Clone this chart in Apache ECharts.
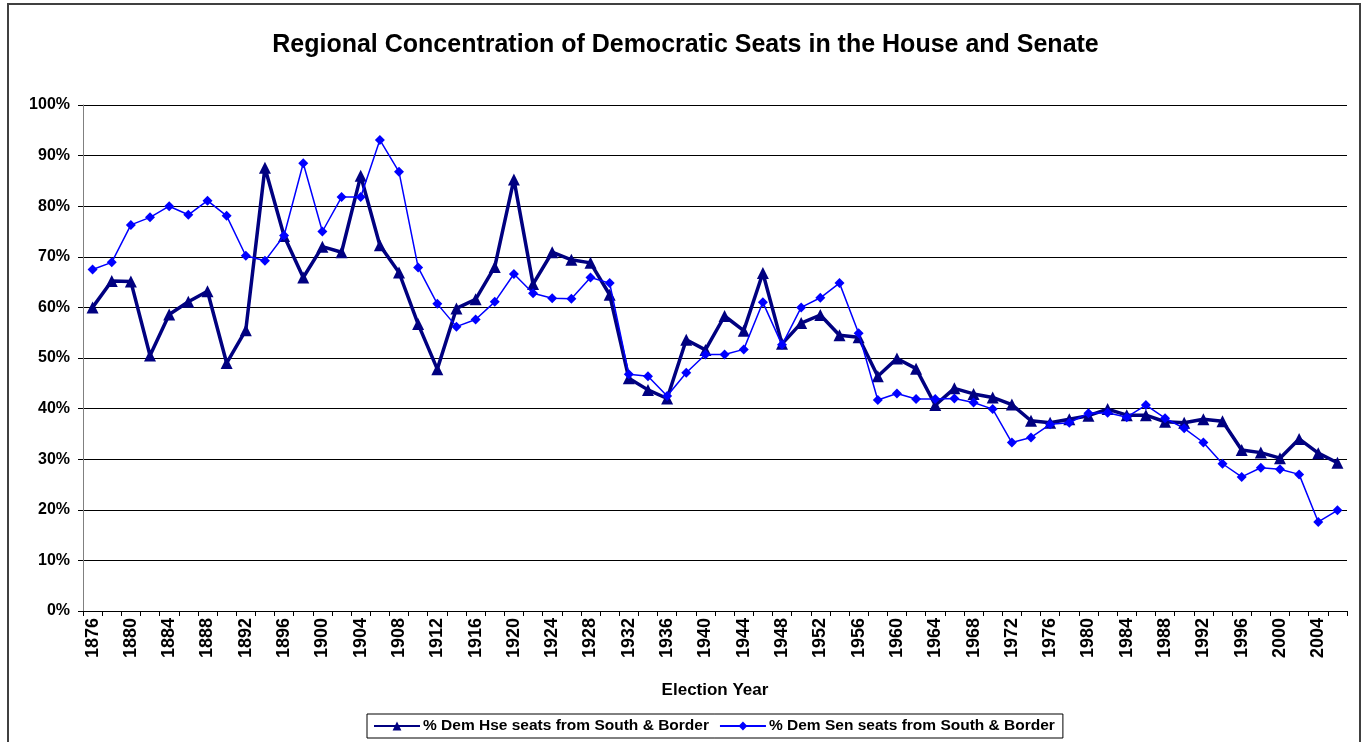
<!DOCTYPE html>
<html>
<head>
<meta charset="utf-8">
<script src="https://cdn.jsdelivr.net/npm/echarts@6/dist/echarts.min.js"></script>
<style>
  html, body { margin: 0; padding: 0; background: #fff; }
  #main { width: 1371px; height: 742px; }
</style>
</head>
<body>
<div id="main"></div>
<script>
// election years, 1876 - 2006
const years = [];
for (let y = 1876; y <= 2006; y += 2) years.push(String(y));

// % Dem House seats from South & Border
const houseShare = [
  60.0, 65.2, 65.1, 50.5, 58.6, 61.1, 63.2, 49.0, 55.5, 87.6,
  74.1, 65.9, 72.0, 70.9, 86.0, 72.3, 66.9, 56.7, 47.8, 59.8,
  61.6, 68.0, 85.3, 64.6, 70.9, 69.4, 68.8, 62.5, 46.0, 43.7,
  42.0, 53.6, 51.6, 58.3, 55.4, 66.8, 52.8, 56.9, 58.5, 54.5,
  54.1, 46.4, 49.9, 47.9, 40.7, 44.0, 42.9, 42.2, 40.8, 37.6,
  37.2, 37.9, 38.6, 39.9, 38.7, 38.7, 37.4, 37.2, 37.9, 37.5,
  31.8, 31.3, 30.2, 34.0, 31.2, 29.3
];

// % Dem Senate seats from South & Border
const senateShare = [
  67.5, 68.9, 76.3, 77.8, 80.0, 78.3, 81.1, 78.1, 70.2, 69.2,
  74.2, 88.5, 75.0, 81.8, 81.8, 93.1, 86.8, 67.9, 60.7, 56.2,
  57.6, 61.1, 66.6, 62.8, 61.8, 61.7, 65.9, 64.8, 46.8, 46.4,
  42.5, 47.1, 50.7, 50.7, 51.7, 61.0, 52.6, 60.0, 61.9, 64.8,
  54.9, 41.7, 43.0, 41.9, 41.9, 42.0, 41.2, 39.9, 33.3, 34.3,
  36.9, 37.2, 39.1, 39.2, 38.3, 40.7, 38.1, 36.1, 33.3, 29.1,
  26.5, 28.3, 28.0, 27.0, 17.6, 19.9
];

const font = 'Liberation Sans, Arial, sans-serif';

const chart = echarts.init(document.getElementById('main'), null, { renderer: 'canvas' });
chart.setOption({
  animation: false,
  backgroundColor: '#fff',
  textStyle: { fontFamily: font },
  title: {
    text: 'Regional Concentration of Democratic Seats in the House and Senate',
    left: 'center',
    top: 28,
    textStyle: { fontFamily: font, fontSize: 25, fontWeight: 'bold', color: '#000' }
  },
  graphic: [{
    type: 'rect',
    shape: { x: 8, y: 4, width: 1352, height: 760 },
    style: { fill: 'none', stroke: '#404040', lineWidth: 2 },
    silent: true
  }],
  legend: {
    bottom: 4,
    left: 367,
    itemGap: 10,
    itemWidth: 46,
    itemHeight: 11,
    padding: [4, 8, 4, 6],
    borderColor: '#000',
    borderWidth: 1,
    borderRadius: 0,
    textStyle: { fontFamily: font, fontSize: 15.5, fontWeight: 'bold', color: '#000', padding: [0, 0, 0, -2] },
    data: ['% Dem Hse seats from South & Border', '% Dem Sen seats from South & Border']
  },
  grid: { left: 83, right: 24, top: 105, bottom: 131, containLabel: false },
  xAxis: {
    type: 'category',
    data: years,
    boundaryGap: true,
    name: 'Election Year',
    nameLocation: 'middle',
    nameGap: 71,
    nameTextStyle: { fontFamily: font, fontSize: 17, fontWeight: 'bold', color: '#000' },
    axisLine: { lineStyle: { color: '#000', width: 1 } },
    axisTick: { show: true, interval: 0, length: 5, lineStyle: { color: '#000' } },
    axisLabel: {
      interval: 1,
      rotate: 90,
      margin: 7,
      fontFamily: font,
      fontSize: 18,
      fontWeight: 'bold',
      color: '#000'
    },
    splitLine: { show: false }
  },
  yAxis: {
    type: 'value',
    min: 0,
    max: 100,
    interval: 10,
    axisLine: { show: true, lineStyle: { color: '#808080', width: 1 } },
    axisTick: { show: true, length: 5, lineStyle: { color: '#000' } },
    axisLabel: {
      formatter: '{value}%',
      margin: 13,
      fontFamily: font,
      fontSize: 16,
      fontWeight: 'bold',
      color: '#000'
    },
    splitLine: { show: true, lineStyle: { color: '#000', width: 1 } }
  },
  series: [
    {
      name: '% Dem Hse seats from South & Border',
      type: 'line',
      data: houseShare,
      symbol: 'triangle',
      symbolSize: 12,
      lineStyle: { color: '#000080', width: 3.5 },
      itemStyle: { color: '#000080' },
      z: 3
    },
    {
      name: '% Dem Sen seats from South & Border',
      type: 'line',
      data: senateShare,
      symbol: 'diamond',
      symbolSize: 10,
      lineStyle: { color: '#0000FF', width: 1.5 },
      itemStyle: { color: '#0000FF' },
      z: 4
    }
  ]
});
</script>
</body>
</html>
